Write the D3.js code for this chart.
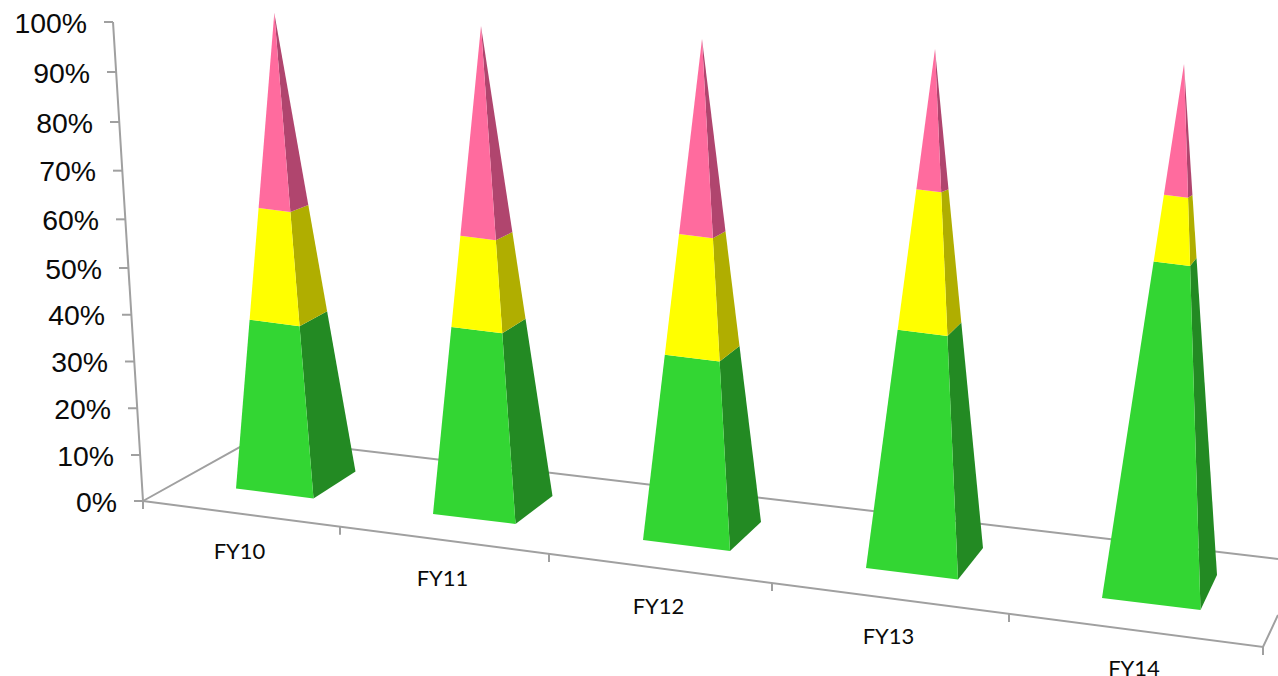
<!DOCTYPE html>
<html>
<head>
<meta charset="utf-8">
<script src="https://cdn.jsdelivr.net/npm/d3@7"></script>
<style>
html, body { margin: 0; padding: 0; background: #fff; overflow: hidden; }
svg { display: block; }
.wall { font-family: "Liberation Sans", Arial, sans-serif; font-size: 28.4px; fill: #0a0a0a; }
.cat { font-family: Lato, sans-serif; font-size: 22px; fill: #0a0a0a; }
</style>
</head>
<body>
<svg id="chart" width="1278" height="676"></svg>
<script>
// values, percent of each pyramid height
let categories = ['FY10', 'FY11', 'FY12', 'FY13', 'FY14'];
let greenValues = [35.5, 38.3, 37, 45.9, 63];
let yellowValues = [23.5, 18.7, 24.1, 27.1, 12.5];
let pinkValues = [41, 43, 38.9, 27, 24.5];
let yTicks = [0, 10, 20, 30, 40, 50, 60, 70, 80, 90, 100];
let seriesNames = ['green', 'yellow', 'pink'];
let frontColors = ['#33d633', '#ffff00', '#ff6b9e'];
let sideColors = ['#238a23', '#b0ae00', '#b0456e'];

const svg = d3.select('#chart');
const axisColor = '#a0a0a0';

// the picture is in perspective, so every scale below runs over category slots
const slots = categories.map((d, i) => i);
const slot = (range) => d3.scaleLinear().domain(slots).range(range);

const frontLeftX = slot([236, 433, 643, 866, 1102]);
const frontLeftY = slot([488.5, 514, 540, 568, 598]);
const frontRightX = slot([313.5, 515.5, 730, 958, 1200.5]);
const frontRightY = slot([498.5, 524, 551, 579.5, 610]);
const backRightX = slot([355.5, 552.5, 761, 983, 1217]);
const backRightY = slot([471.5, 496, 522, 548, 575]);
const apexX = slot([274.3, 481, 702, 935, 1184]);
const apexY = slot([13, 26, 39, 49, 64]);

// the back edge is further away, heights come out a bit shorter on it
const backShrink = 0.985;

// value axis on the wall
const wallY = d3.scaleLinear().domain([0, 10, 50, 80, 90, 100]).range([501, 455, 268, 122, 72, 22]);
const wallX = d3.scaleLinear().domain([0, 100]).range([143, 113]);

// floor edges
const floorTick = d3.scaleLinear().domain([0, 1, 2, 3, 4, 5]).range([143, 340, 549, 772, 1009, 1263]);
const frontEdgeY = d3.scaleLinear().domain([143, 1263]).range([501, 647]);
const backEdgeY = d3.scaleLinear().domain([256, 1278]).range([438, 559]);

const line = d3.line();
const stroke = (sel) => sel.attr('fill', 'none').attr('stroke', axisColor).attr('stroke-width', 2);

const axes = svg.append('g');

// wall line, floor left edge, back edge, front edge, right edge
axes.append('path').call(stroke).attr('d', line([[wallX(0), wallY(0)], [wallX(100), wallY(100)]]));
axes.append('path').call(stroke).attr('d', line([[143, frontEdgeY(143)], [256, backEdgeY(256)], [1278, backEdgeY(1278)]]));
axes.append('path').call(stroke).attr('d', line([[143, frontEdgeY(143)], [1263, frontEdgeY(1263)], [1278, 615]]));

axes.selectAll('.ytick').data(yTicks).enter().append('path')
    .attr('class', 'ytick').call(stroke)
    .attr('d', d => line([[wallX(d) - 9, wallY(d)], [wallX(d), wallY(d)]]));

axes.selectAll('.xtick').data(floorTick.domain()).enter().append('path')
    .attr('class', 'xtick').call(stroke)
    .attr('d', d => {
        let x = floorTick(d);
        return line([[x, frontEdgeY(x)], [x, frontEdgeY(x) + 8]]);
    });

svg.selectAll('.wall').data(yTicks).enter().append('text')
    .attr('class', 'wall')
    .attr('text-anchor', 'end')
    .attr('dominant-baseline', 'middle')
    .attr('x', d => wallX(d) - 26)
    .attr('y', d => wallY(d) + 3)
    .text(d => d + '%');

svg.selectAll('.cat').data(categories).enter().append('text')
    .attr('class', 'cat')
    .attr('text-anchor', 'middle')
    .attr('x', (d, i) => floorTick(i + 0.5) - 2)
    .attr('y', (d, i) => frontEdgeY(floorTick(i + 0.5)) + 45.5)
    .text(d => d);

// stacked bands
const rows = categories.map((d, i) => ({ green: greenValues[i], yellow: yellowValues[i], pink: pinkValues[i] }));
const stacked = d3.stack().keys(seriesNames)(rows);

// a point on the edge that runs from a base corner up to the apex
function onEdge(x, y, i, value) {
    let h = d3.scaleLinear().domain([0, 100]);
    return [h.range([x(i), apexX(i)])(value), h.range([y(i), apexY(i)])(value)];
}

function frontFace(i, d) {
    return line([
        onEdge(frontLeftX, frontLeftY, i, d[0]), onEdge(frontRightX, frontRightY, i, d[0]),
        onEdge(frontRightX, frontRightY, i, d[1]), onEdge(frontLeftX, frontLeftY, i, d[1])
    ]) + 'Z';
}

function sideFace(i, d) {
    // the very tip stays shared with the front face
    let top = d[1] >= 100 ? 100 : d[1] * backShrink;
    return line([
        onEdge(frontRightX, frontRightY, i, d[0]), onEdge(backRightX, backRightY, i, d[0] * backShrink),
        onEdge(backRightX, backRightY, i, top), onEdge(frontRightX, frontRightY, i, d[1])
    ]) + 'Z';
}

stacked.forEach(function(series, s) {
    let g = svg.append('g').attr('class', series.key);
    g.selectAll('.side').data(series).enter().append('path')
        .attr('class', 'side')
        .attr('fill', sideColors[s])
        .attr('d', (d, i) => sideFace(i, d));
    g.selectAll('.front').data(series).enter().append('path')
        .attr('class', 'front')
        .attr('fill', frontColors[s])
        .attr('d', (d, i) => frontFace(i, d));
});
</script>
</body>
</html>
